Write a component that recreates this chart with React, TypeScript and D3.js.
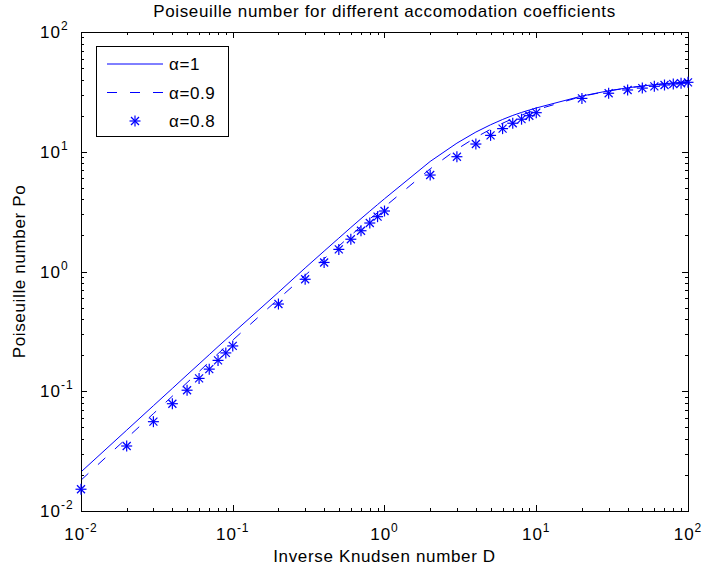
import React from 'react';
import * as d3 from 'd3';

// Inverse Knudsen number D (shared x grid)
const dValues = [
  0.01, 0.02, 0.03, 0.04, 0.05, 0.06, 0.07, 0.08, 0.09,
  0.1, 0.2, 0.3, 0.4, 0.5, 0.6, 0.7, 0.8, 0.9,
  1, 2, 3, 4, 5, 6, 7, 8, 9,
  10, 20, 30, 40, 50, 60, 70, 80, 90, 100,
];

// Poiseuille number for alpha = 1 (solid)
const poAlpha1 = [
  0.0212, 0.0473, 0.0757, 0.1056, 0.137, 0.169, 0.202, 0.236, 0.27,
  0.305, 0.67, 1.07, 1.48, 1.9, 2.33, 2.76, 3.19, 3.62,
  4.05, 8.3, 11.8, 14.6, 16.8, 18.6, 20.1, 21.3, 22.3,
  23.2, 29.2, 32.3, 34.2, 35.4, 36.3, 37.0, 37.5, 38.0, 38.4,
];

// alpha = 0.9 (dashed)
const poAlpha09 = [
  0.0181, 0.0405, 0.065, 0.091, 0.118, 0.146, 0.176, 0.206, 0.236,
  0.267, 0.59, 0.93, 1.28, 1.63, 2.0, 2.38, 2.75, 3.1,
  3.46, 7.2, 10.5, 13.2, 15.4, 17.3, 18.9, 20.2, 21.4,
  22.4, 29.0, 32.2, 34.1, 35.3, 36.3, 37.0, 37.5, 37.9, 38.3,
];

// alpha = 0.8 (stars)
const poAlpha08 = [
  0.0152, 0.0349, 0.0557, 0.0787, 0.102, 0.128, 0.153, 0.181, 0.209,
  0.239, 0.535, 0.861, 1.19, 1.53, 1.86, 2.19, 2.54, 2.87,
  3.2, 6.39, 9.09, 11.6, 13.7, 15.6, 17.3, 18.7, 20.0,
  21.2, 27.9, 30.8, 32.8, 34.0, 35.2, 36.1, 36.8, 37.3, 38.0,
];

const legendLabels = ['α=1', 'α=0.9', 'α=0.8'];

const W = 703;
const H = 569;
const margin = { top: 32, right: 15, bottom: 58, left: 81 };
const FONT = '"Liberation Sans", Arial, Helvetica, sans-serif';
const BLUE = '#0000ff';

const Star = ({ x, y }: { x: number; y: number }) => {
  const a = 5.5;
  const b = 4;
  return (
    <g stroke={BLUE} strokeWidth={1.2}>
      <line x1={x - a} y1={y} x2={x + a} y2={y} />
      <line x1={x} y1={y - a} x2={x} y2={y + a} />
      <line x1={x - b} y1={y - b} x2={x + b} y2={y + b} />
      <line x1={x - b} y1={y + b} x2={x + b} y2={y - b} />
    </g>
  );
};

const Pow10 = ({ e }: { e: number }) => (
  <>
    10<tspan fontSize={12} dy={-8}>{e}</tspan>
  </>
);

export default function App() {
  const pw = W - margin.left - margin.right;
  const ph = H - margin.top - margin.bottom;
  const x = d3.scaleLog().domain([0.01, 100]).range([margin.left, margin.left + pw]);
  const y = d3.scaleLog().domain([0.01, 100]).range([margin.top + ph, margin.top]);

  const mk = (vals: number[]) =>
    d3.line<number>()
      .x((_, i) => x(dValues[i]))
      .y((d) => y(d))(vals) || '';

  const xt = x.ticks();
  const yt = y.ticks();
  const isMajor = (v: number) => Math.abs(Math.log10(v) - Math.round(Math.log10(v))) < 1e-9;

  const x0 = margin.left, x1 = margin.left + pw;
  const y0 = margin.top + ph, y1 = margin.top;

  const lg = { x: 96, y: 46, w: 132, h: 90 };
  const rowY = [64, 92.5, 121];

  return (
    <svg width={W} height={H} style={{ position: 'absolute', left: 0, top: 0, background: '#fff' }}
      fontFamily={FONT}>
      <rect x={0} y={0} width={W} height={H} fill="#fff" />

      {/* series */}
      <path d={mk(poAlpha1)} fill="none" stroke={BLUE} strokeWidth={1} />
      <path d={mk(poAlpha09)} fill="none" stroke={BLUE} strokeWidth={1} strokeDasharray="10,13" />

      {/* ticks */}
      <g stroke="#000" strokeWidth={1}>
        {xt.map((v, i) => {
          const len = isMajor(v) ? 6 : 3;
          const px = Math.round(x(v)) + 0.5;
          return (
            <g key={'x' + i}>
              <line x1={px} x2={px} y1={y0} y2={y0 - len} />
              <line x1={px} x2={px} y1={y1} y2={y1 + len} />
            </g>
          );
        })}
        {yt.map((v, i) => {
          const len = isMajor(v) ? 6 : 3;
          const py = Math.round(y(v)) + 0.5;
          return (
            <g key={'y' + i}>
              <line x1={x0} x2={x0 + len} y1={py} y2={py} />
              <line x1={x1} x2={x1 - len} y1={py} y2={py} />
            </g>
          );
        })}
      </g>
      <rect x={x0 + 0.5} y={y1 + 0.5} width={pw} height={ph} fill="none" stroke="#000" strokeWidth={1} />

      {/* stars */}
      {poAlpha08.map((v, i) => (
        <Star key={'s' + i} x={x(dValues[i])} y={y(v)} />
      ))}

      {/* tick labels */}
      <g fontSize={17} fill="#000" letterSpacing={1}>
        {xt.filter(isMajor).map((v, i) => (
          <text key={'xl' + i} x={x(v)} y={540} textAnchor="middle">
            <Pow10 e={Math.round(Math.log10(v))} />
          </text>
        ))}
        {yt.filter(isMajor).map((v, i) => (
          <g key={'yl' + i}>
            <text x={61} y={y(v) + 6} textAnchor="end">10</text>
            <text x={61} y={y(v) - 2} fontSize={12}>{Math.round(Math.log10(v))}</text>
          </g>
        ))}
      </g>

      {/* title and axis labels */}
      <text x={(x0 + x1) / 2} y={17} textAnchor="middle" fontSize={17} letterSpacing={0.65}>
        Poiseuille number for different accomodation coefficients
      </text>
      <text x={(x0 + x1) / 2} y={562} textAnchor="middle" fontSize={17} letterSpacing={0.65}>
        Inverse Knudsen number D
      </text>
      <text transform={`translate(25,${(y0 + y1) / 2}) rotate(-90)`} textAnchor="middle" fontSize={17}
        letterSpacing={0.65}>
        Poiseuille number Po
      </text>

      {/* legend */}
      <rect x={lg.x + 0.5} y={lg.y + 0.5} width={lg.w} height={lg.h} fill="#fff" stroke="#000" strokeWidth={1} />
      <line x1={107} x2={163} y1={rowY[0]} y2={rowY[0]} stroke={BLUE} strokeWidth={1} />
      <line x1={107} x2={163} y1={rowY[1]} y2={rowY[1]} stroke={BLUE} strokeWidth={1} strokeDasharray="10,13" />
      <Star x={135} y={rowY[2]} />
      {legendLabels.map((t, i) => (
        <text key={'lg' + i} x={169} y={rowY[i] + 6} fontSize={17} letterSpacing={0.6}>{t}</text>
      ))}
    </svg>
  );
}
